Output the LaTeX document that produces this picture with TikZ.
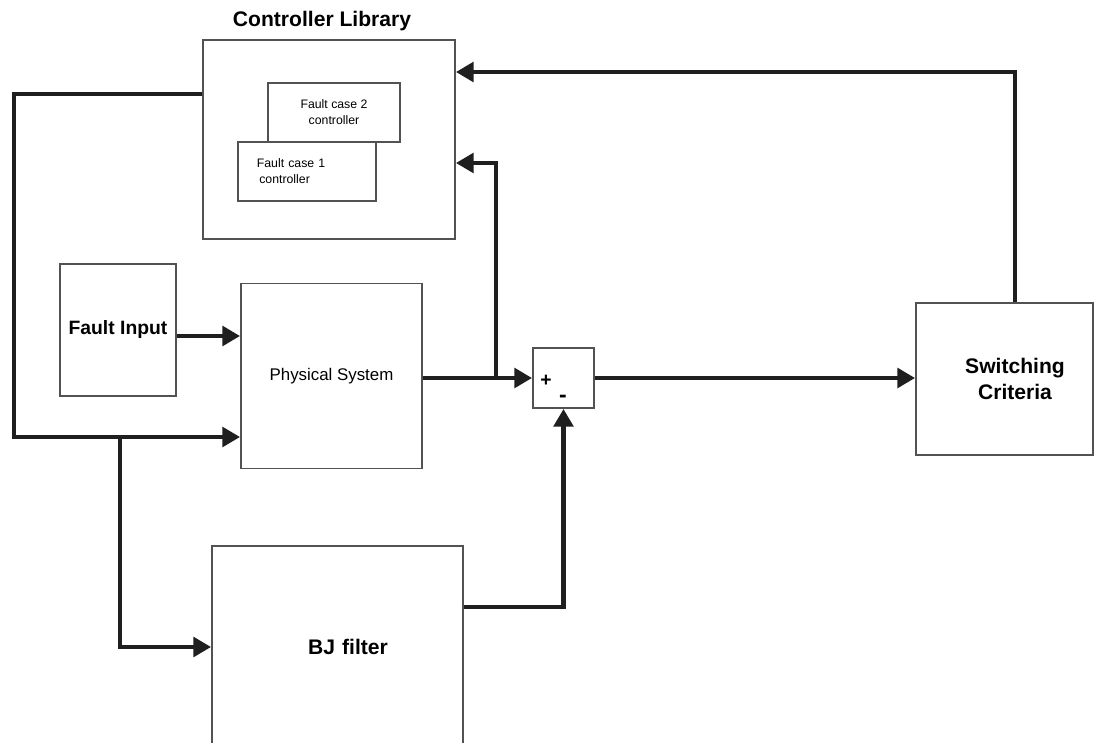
\documentclass[tikz,border=0pt]{standalone}
\usepackage{fontspec}
\setmainfont{Liberation Sans}
\usetikzlibrary{arrows.meta,calc}

\begin{document}
\begin{tikzpicture}[x=0.02cm,y=-0.02cm,
  box/.style={draw=black!68,line width=1.1pt,fill=white,inner sep=0pt},
  wire/.style={draw=black!88,line width=2.4pt},
  arr/.style={wire,-{Triangle[length=10pt,width=11pt]}}]
\useasboundingbox (0,0) rectangle (1095,743);
\clip (0,0) rectangle (1095,743);
\node[box,minimum width=5.04cm,minimum height=3.98cm] (lib) at (329,139.5) {};
\node[font=\bfseries\fontsize{12}{14}\selectfont] (libtitle) at (322,21) {Controller Library};
\node[box,minimum width=2.64cm,minimum height=1.18cm,align=center,font=\fontsize{7}{9}\selectfont] (case2) at (334,112.5) {Fault case 2\\controller};
\node[box,minimum width=2.76cm,minimum height=1.18cm,font=\fontsize{7}{9}\selectfont,text width=2.4cm,align=left] (case1) at (307,171.5) {\hspace*{0.8em}Fault case 1\\\hspace*{1em}controller};
\node[box,minimum width=2.32cm,minimum height=2.64cm,font=\bfseries\fontsize{11}{13}\selectfont] (fault) at (118,330) {Fault Input};
\node[box,minimum width=3.62cm,minimum height=3.70cm,font=\fontsize{9.6}{11}\selectfont] (phys) at (331.5,376) {Physical System};
\node[box,minimum width=1.22cm,minimum height=1.2cm] (sum) at (563.5,378) {};
\node[font=\bfseries\fontsize{11}{12}\selectfont] (splus) at (546,381) {+};
\node[font=\bfseries\fontsize{13}{13}\selectfont] (sminus) at (563,399) {-};
\node[box,minimum width=3.54cm,minimum height=3.04cm,
  label={[font=\bfseries\fontsize{12}{15}\selectfont,align=center,xshift=0.21cm]center:Switching\\Criteria}] (switch) at (1004.5,379) {};
\node[box,minimum width=5.02cm,minimum height=4.04cm,font=\bfseries\fontsize{12}{14}\selectfont,
  text width=4.3cm,align=center] (bj) at (337.5,647) {\hspace*{1em}BJ filter};
\coordinate (fbtop) at (14,94);
\coordinate (fbbot) at (14,437);
\coordinate (split) at (120,437);
\coordinate (tap) at (496,378);
\draw[arr] (lib.west |- fbtop) -| (fbbot) -- (phys.west |- fbbot);
\draw[arr] (split) |- (bj.west);
\draw[arr] ([yshift=-0.12cm]fault.east) coordinate (fi) -- (fi -| phys.west);
\draw[arr] (phys.east |- sum.west) -- (sum.west);
\draw[arr] (tap) |- ([yshift=-0.47cm]lib.east);
\draw[arr] (sum.east) -- (switch.west |- sum.east);
\draw[arr] ([xshift=0.21cm]switch.north) |- ([yshift=1.35cm]lib.east);
\draw[arr] ([yshift=0.8cm]bj.east) -| (sum.south);
\end{tikzpicture}
\end{document}
